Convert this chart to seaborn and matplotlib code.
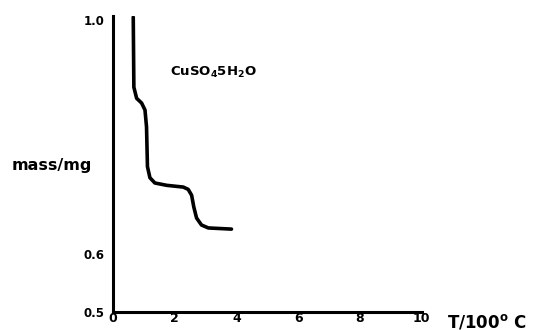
import matplotlib
matplotlib.use("Agg")
import matplotlib.pyplot as plt
import pandas as pd
import seaborn as sns

# Thermogravimetric curve
temp = [0.66, 0.68, 0.77, 0.93, 1.04, 1.09, 1.12, 1.20, 1.36, 1.74, 2.28, 2.44,
        2.55, 2.62, 2.71, 2.87, 3.09, 3.84]
mass = [1.005, 0.885, 0.866, 0.858, 0.846, 0.817, 0.749, 0.730, 0.721, 0.717, 0.714, 0.710,
        0.700, 0.680, 0.661, 0.649, 0.644, 0.642]
x_ticks = [0, 2, 4, 6, 8, 10]
y_ticks = [0.5, 0.6, 1.0]
y_tick_labels = ["0.5", "0.6", "1.0"]

df = pd.DataFrame({"T": temp, "mass": mass})

sns.set_style("white")
plt.rcParams["font.family"] = ["DejaVu Sans"]
plt.rcParams["font.weight"] = "bold"
plt.rcParams["mathtext.default"] = "bf"
plt.rcParams["text.color"] = "black"
plt.rcParams["xtick.color"] = "black"
plt.rcParams["ytick.color"] = "black"

fig = plt.figure(figsize=(5.4, 3.3), dpi=100)
ax = fig.add_axes([0.209, 0.0545, 0.572, 0.897])

sns.lineplot(data=df, x="T", y="mass", sort=False, estimator=None, color="black",
             linewidth=2.6, solid_joinstyle="round", solid_capstyle="round", ax=ax)

ax.set_xlim(0, 10)
ax.set_ylim(0.5, 1.007)
ax.set_xticks(x_ticks)
ax.set_xticklabels([str(t) for t in x_ticks], fontsize=9, fontweight="bold")
ax.set_yticks(y_ticks)
ax.set_yticklabels(y_tick_labels, fontsize=8.5, fontweight="bold")
ax.tick_params(axis="x", length=0, pad=0)
ax.tick_params(axis="y", length=0, pad=6)

for side in ["top", "right"]:
    ax.spines[side].set_visible(False)
for side in ["left", "bottom"]:
    ax.spines[side].set_linewidth(2.2)
    ax.spines[side].set_color("black")

ax.set_xlabel("")
ax.set_ylabel("")
fig.text(0.022, 0.497, "mass/mg", fontsize=11.5, fontweight="bold", va="center", ha="left")
fig.text(0.828, 0.025, "T/100$^{o}$ C", fontsize=12, fontweight="bold", va="center", ha="left")
ax.text(0.185, 0.81, "CuSO$_{4}$5H$_{2}$O", transform=ax.transAxes,
        fontsize=9.5, fontweight="bold", va="center", ha="left")

fig.savefig("out.png", dpi=100)
